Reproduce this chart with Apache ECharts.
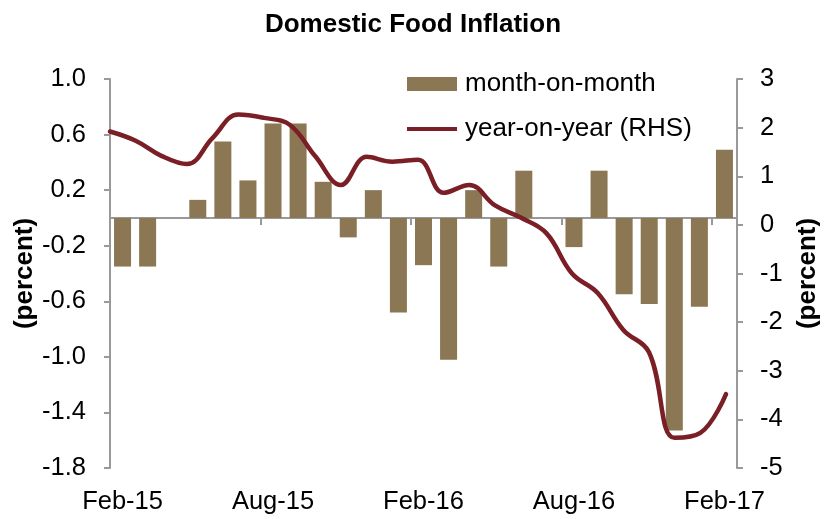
<!DOCTYPE html>
<html>
<head>
<meta charset="utf-8">
<script src="https://cdn.jsdelivr.net/npm/echarts@6/dist/echarts.min.js"></script>
<style>
html,body{margin:0;padding:0;background:#fff;}
#chart{width:826px;height:519px;}
</style>
</head>
<body>
<div id="chart"></div>
<script>
const categories = ['Feb-15','Mar-15','Apr-15','May-15','Jun-15','Jul-15','Aug-15','Sep-15','Oct-15','Nov-15','Dec-15','Jan-16','Feb-16','Mar-16','Apr-16','May-16','Jun-16','Jul-16','Aug-16','Sep-16','Oct-16','Nov-16','Dec-16','Jan-17','Feb-17'];
const monthOnMonth = [-0.35,-0.35,0,0.13,0.55,0.27,0.68,0.68,0.26,-0.14,0.20,-0.68,-0.34,-1.02,0.20,-0.35,0.34,0,-0.21,0.34,-0.55,-0.62,-1.53,-0.64,0.49];
const yearOnYear = [1.92,1.73,1.42,1.25,1.79,2.27,2.20,2.06,1.41,0.82,1.40,1.30,1.34,0.66,0.82,0.40,0.15,-0.17,-1.00,-1.40,-2.16,-2.62,-4.38,-4.28,-3.48];
const leftTicks = [-1.8,-1.4,-1.0,-0.6,-0.2,0.2,0.6,1.0];
const rightTicks = [-5,-4,-3,-2,-1,0,1,2,3];

const FONT = 'Liberation Sans, Arial, sans-serif';
const AXIS_COLOR = '#999999';
const LINE_COLOR = '#7B1F26';
const chart = echarts.init(document.getElementById('chart'), null, {renderer:'canvas'});
chart.setOption({
  animation:false,
  backgroundColor:'#ffffff',
  textStyle:{fontFamily:FONT},
  title:{
    text:'Domestic Food Inflation', left:'center', top:7,
    textStyle:{fontFamily:FONT, fontSize:26, fontWeight:'bold', color:'#000'}
  },
  legend:{
    orient:'vertical', left:402, top:66, itemWidth:50, itemHeight:14, itemGap:19,
    textStyle:{fontFamily:FONT, fontSize:26, color:'#000', padding:[0,0,0,3]},
    data:[
      {name:'month-on-month', icon:'rect'},
      {name:'year-on-year (RHS)', icon:'path://M0,0 L0,0 M0,5 L50,5 L50,9 L0,9 Z M50,14 L50,14', itemStyle:{color:LINE_COLOR}}
    ]
  },
  grid:[
    {left:110, right:89, top:79, bottom:51, containLabel:false, outerBoundsMode:'none'},
    {left:110, right:100, top:79, bottom:51, containLabel:false, outerBoundsMode:'none'}
  ],
  xAxis:[
    {type:'category', gridIndex:0, data:categories, boundaryGap:true,
     axisLine:{onZero:true, onZeroAxisIndex:0, lineStyle:{color:AXIS_COLOR, width:2}},
     axisTick:{show:true, interval:5, length:7, lineStyle:{color:AXIS_COLOR, width:2}},
     axisLabel:{show:false}, splitLine:{show:false}},
    {type:'category', gridIndex:0, data:categories, position:'bottom', boundaryGap:true,
     axisLine:{show:false, onZero:false}, axisTick:{show:false},
     axisLabel:{interval:5, fontFamily:FONT, fontSize:25.5, color:'#000', margin:21}},
    {type:'category', gridIndex:1, data:categories, boundaryGap:false, show:false}
  ],
  yAxis:[
    {type:'value', gridIndex:0, position:'left', min:-1.8, max:1.0,
     name:'(percent)', nameLocation:'middle', nameRotate:90, nameGap:72, nameMoveOverlap:false,
     nameTextStyle:{fontFamily:FONT, fontSize:26, fontWeight:'bold', color:'#000'},
     axisLine:{show:true, lineStyle:{color:AXIS_COLOR, width:2}},
     axisTick:{show:true, length:6, customValues:leftTicks, lineStyle:{color:AXIS_COLOR, width:2}},
     axisLabel:{customValues:leftTicks, formatter:v=>Number(v).toFixed(1), fontFamily:FONT, fontSize:25.5, color:'#000', margin:24},
     splitLine:{show:false}},
    {type:'value', gridIndex:0, position:'right', min:-5, max:3, interval:1,
     name:'(percent)', nameLocation:'middle', nameRotate:90, nameGap:58, nameMoveOverlap:false,
     nameTextStyle:{fontFamily:FONT, fontSize:26, fontWeight:'bold', color:'#000'},
     axisLine:{show:true, lineStyle:{color:AXIS_COLOR, width:2}},
     axisTick:{show:true, length:6, customValues:rightTicks, lineStyle:{color:AXIS_COLOR, width:2}},
     axisLabel:{customValues:rightTicks, fontFamily:FONT, fontSize:25.5, color:'#000', margin:23},
     splitLine:{show:false}},
    {type:'value', gridIndex:1, min:-5, max:3, show:false}
  ],
  series:[
    {name:'month-on-month', type:'bar', xAxisIndex:0, yAxisIndex:0, data:monthOnMonth,
     barWidth:17, itemStyle:{color:'#8B7753'}, z:2},
    {name:'year-on-year (RHS)', type:'line', xAxisIndex:2, yAxisIndex:2, data:yearOnYear,
     smooth:0.4, symbol:'none', lineStyle:{color:LINE_COLOR, width:4.5, cap:'round'},
     itemStyle:{color:LINE_COLOR}, z:5}
  ]
});
</script>
</body>
</html>
